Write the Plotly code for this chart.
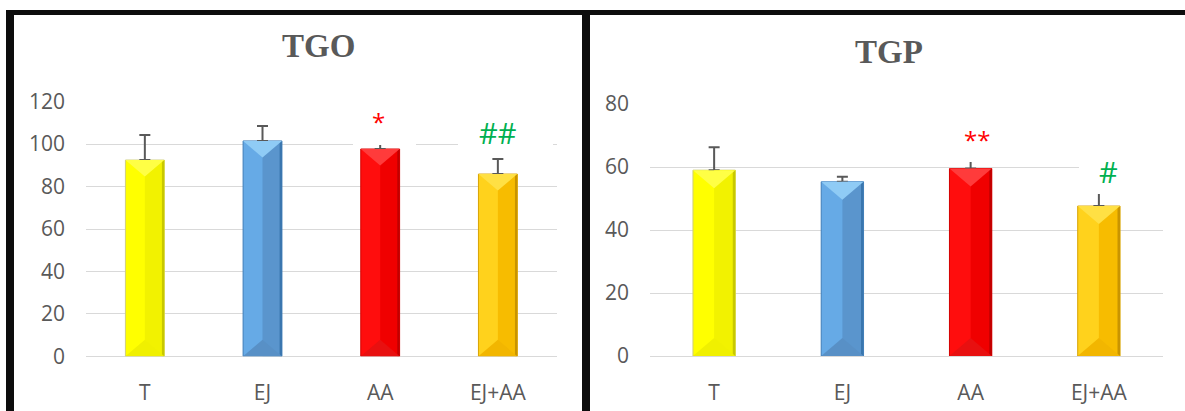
import plotly.graph_objects as go

# ---- data ----
categories = ["T", "EJ", "AA", "EJ+AA"]

tgo_mean = [92.5, 101.5, 97.7, 85.9]
tgo_sd = [11.8, 7.0, 4.0, 7.1]
tgo_marks = ["", "", "*", "##"]
tgo_ticks = [0, 20, 40, 60, 80, 100, 120]

tgp_mean = [59.0, 55.3, 59.5, 47.6]
tgp_sd = [7.3, 1.6, 3.0, 5.0]
tgp_marks = ["", "", "**", "#"]
tgp_ticks = [0, 20, 40, 60, 80]

# ---- styling ----
W, H = 1185, 411
BAR_W = 0.33
TEXT_GREY = "#595959"
GRID = "#D9D9D9"
FRAME = "#0D0D0D"
TICK_FONT = dict(family="Open Sans", size=21, color=TEXT_GREY)

# per-category bevel palette: face, shaded right half, right edge, top facet, bottom facet, outline
PALETTE = [
    dict(face="#FFFF00", right="#F2F200", edge="#C8C800", top="#FFFF45", bottom="#F0F000", line="#CFCF7A"),
    dict(face="#66AAE6", right="#5A95CD", edge="#3A76AE", top="#8FCBF5", bottom="#5890C6", line="#3F7DB8"),
    dict(face="#FF0D0D", right="#F00000", edge="#C00000", top="#FF3B3B", bottom="#E81010", line="#D40000"),
    dict(face="#FFD21C", right="#F7BC00", edge="#C99400", top="#FFE044", bottom="#F2B600", line="#D9A300"),
]
MARK_COLORS = {"*": "#FF0000", "#": "#00B050"}


def px_x(p):
    return p / W


def px_y(p):
    return 1 - p / H


panels = [
    dict(name="TGO", mean=tgo_mean, sd=tgo_sd, marks=tgo_marks, ticks=tgo_ticks,
         xa="x", ya="y", xdom=(86, 556.7), ydom=(356.3, 101.7), title_xy=(318.8, 46),
         # white label boxes: (dx, dy, w, h) relative to the error-bar tip, and label offsets
         boxes={2: (4.1, 20, 63, 49), 3: (7.4, 28, 95, 42)},
         labels={2: (-2, 19.5, 24), 3: (0, 26, 29)}),
    dict(name="TGP", mean=tgp_mean, sd=tgp_sd, marks=tgp_marks, ticks=tgp_ticks,
         xa="x2", ya="y2", xdom=(650, 1163), ydom=(356, 104), title_xy=(889.3, 51.5),
         boxes={2: (0.4, 23.1, 52, 52), 3: (23.6, 19.3, 87, 46)},
         labels={2: (6.4, 19.5, 24), 3: (9.8, 19.3, 29)}),
]

xs = list(range(len(categories)))
fig = go.Figure()
annotations = []
layout_axes = {}

for pn in panels:
    ymax = pn["ticks"][-1]
    slot_px = (pn["xdom"][1] - pn["xdom"][0]) / len(categories)
    unit_px = (pn["ydom"][0] - pn["ydom"][1]) / ymax
    depth = 0.85 * (BAR_W / 2) * slot_px / unit_px
    half = BAR_W / 2
    ax = dict(xaxis=pn["xa"], yaxis=pn["ya"])

    # bar body
    fig.add_trace(go.Bar(
        x=xs, y=pn["mean"], width=BAR_W,
        marker=dict(color=[c["face"] for c in PALETTE],
                    line=dict(color=[c["line"] for c in PALETTE], width=1)),
        error_y=dict(type="data", array=pn["sd"], arrayminus=[0] * len(xs), symmetric=False,
                     color=TEXT_GREY, thickness=2, width=5.5),
        hoverinfo="skip", **ax))
    # shaded right half
    fig.add_trace(go.Bar(
        x=xs, y=pn["mean"], width=half, offset=0,
        marker=dict(color=[c["right"] for c in PALETTE], line=dict(width=0)),
        hoverinfo="skip", **ax))
    # darker right edge
    fig.add_trace(go.Bar(
        x=xs, y=pn["mean"], width=BAR_W * 0.06, offset=half - BAR_W * 0.06,
        marker=dict(color=[c["edge"] for c in PALETTE], line=dict(width=0)),
        hoverinfo="skip", **ax))
    # top and bottom bevel facets
    for i, v in enumerate(pn["mean"]):
        c = PALETTE[i]
        fig.add_trace(go.Scatter(
            x=[i - half, i + half, i, i - half], y=[v, v, v - depth, v],
            fill="toself", fillcolor=c["top"], mode="lines", line=dict(width=0),
            hoverinfo="skip", **ax))
        fig.add_trace(go.Scatter(
            x=[i - half, i + half, i, i - half], y=[0, 0, depth, 0],
            fill="toself", fillcolor=c["bottom"], mode="lines", line=dict(width=0),
            hoverinfo="skip", **ax))

    # white label boxes, then significance marks
    for i, (dx, dy, bw, bh) in pn["boxes"].items():
        annotations.append(dict(
            x=i, y=pn["mean"][i] + pn["sd"][i], xref=pn["xa"], yref=pn["ya"],
            text=" ", showarrow=False, width=bw, height=bh, bgcolor="white",
            borderpad=0, borderwidth=0, xanchor="center", yanchor="middle",
            xshift=dx, yshift=dy))
    for i, mark in enumerate(pn["marks"]):
        if not mark:
            continue
        dx, dy, size = pn["labels"][i]
        annotations.append(dict(
            x=i, y=pn["mean"][i] + pn["sd"][i], xref=pn["xa"], yref=pn["ya"],
            text=mark, showarrow=False, xanchor="center", yanchor="middle",
            xshift=dx, yshift=dy,
            font=dict(family="Open Sans", size=size, color=MARK_COLORS[mark[0]])))

    # panel title
    annotations.append(dict(
        x=px_x(pn["title_xy"][0]), y=px_y(pn["title_xy"][1]), xref="paper", yref="paper",
        text="<b>%s</b>" % pn["name"], showarrow=False, xanchor="center", yanchor="middle",
        font=dict(family="Liberation Serif", size=33, color=TEXT_GREY)))

    xkey = "xaxis" if pn["xa"] == "x" else "xaxis2"
    ykey = "yaxis" if pn["ya"] == "y" else "yaxis2"
    layout_axes[xkey] = dict(
        domain=[px_x(pn["xdom"][0]), px_x(pn["xdom"][1])], range=[-0.5, len(xs) - 0.5],
        tickvals=xs, ticktext=categories, showgrid=False, zeroline=False, showline=False,
        ticks="", ticklabelstandoff=22, tickfont=TICK_FONT, anchor=pn["ya"],
        automargin=False, fixedrange=True)
    layout_axes[ykey] = dict(
        domain=[px_y(pn["ydom"][0]), px_y(pn["ydom"][1])], range=[0, ymax],
        tickvals=pn["ticks"], showgrid=True, gridcolor=GRID, gridwidth=1.4,
        zeroline=True, zerolinecolor=GRID, zerolinewidth=1.4, showline=False,
        ticks="", ticklabelstandoff=20, tickfont=TICK_FONT, anchor=pn["xa"],
        automargin=False, fixedrange=True)

# black frame around the two panels
frame = [
    (6, 10, W, 15),     # top rule
    (6, 10, 14, H),     # left edge
    (582, 10, 590, H),  # divider between panels
]
shapes = [dict(type="rect", xref="paper", yref="paper",
               x0=px_x(a), x1=px_x(c), y0=px_y(d), y1=px_y(b),
               fillcolor=FRAME, line=dict(width=0), layer="above")
          for a, b, c, d in frame]

fig.update_layout(
    width=W, height=H, margin=dict(l=0, r=0, t=0, b=0, autoexpand=False),
    paper_bgcolor="white", plot_bgcolor="white", showlegend=False,
    barmode="overlay", annotations=annotations, shapes=shapes, **layout_axes)

fig.write_html("out.html")
